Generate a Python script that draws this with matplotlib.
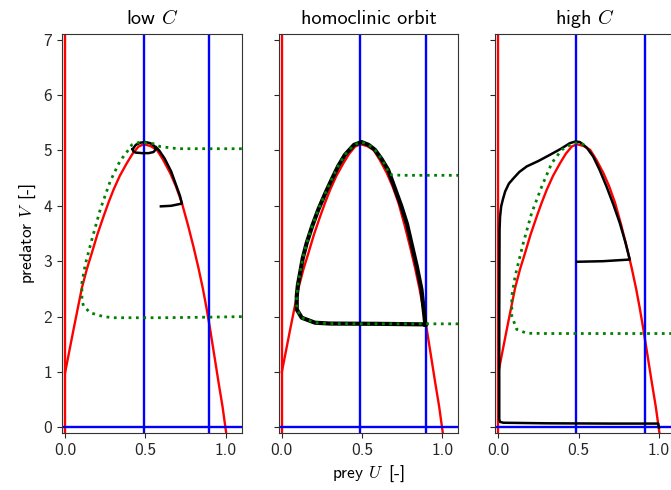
import matplotlib
matplotlib.use("Agg")
import matplotlib.pyplot as plt

plt.rcParams["font.family"] = ["cmss10", "DejaVu Sans"]
plt.rcParams["mathtext.fontset"] = "cm"
plt.rcParams["axes.unicode_minus"] = False
plt.rcParams["axes.formatter.use_mathtext"] = False

titles = ["low $C$", "homoclinic orbit", "high $C$"]

# prey nullcline (red), same in every panel
red_u = [0.0, 0.052, 0.104, 0.135, 0.166, 0.20, 0.239, 0.27, 0.301, 0.34, 0.384,
         0.42, 0.457, 0.49, 0.53, 0.571, 0.61, 0.654, 0.69, 0.727, 0.765, 0.80,
         0.83, 0.858, 0.88, 0.903, 0.93, 0.955, 0.98, 1.003]
red_v = [1.0, 1.77, 2.52, 2.86, 3.15, 3.48, 3.81, 4.06, 4.29, 4.54, 4.77,
         4.94, 5.07, 5.11, 5.08, 5.01, 4.83, 4.59, 4.35, 4.05, 3.65, 3.25,
         2.88, 2.50, 2.16, 1.77, 1.28, 0.82, 0.38, -0.1]

# predator nullclines (blue verticals) per panel
blue_u = [[0.488, 0.893], [0.486, 0.90], [0.483, 0.911]]

# low C: trajectory + small limit cycle
traj1_u = [0.596, 0.66, 0.727, 0.715, 0.69, 0.66, 0.62, 0.585, 0.565]
traj1_v = [3.99, 4.0, 4.04, 4.18, 4.38, 4.62, 4.85, 5.0, 5.06]
cyc1_u = [0.42, 0.44, 0.47, 0.50, 0.53, 0.555, 0.565, 0.55, 0.52, 0.48, 0.44, 0.425, 0.42]
cyc1_v = [5.02, 5.10, 5.14, 5.15, 5.13, 5.08, 5.02, 4.97, 4.95, 4.95, 4.96, 4.98, 5.02]

# homoclinic orbit
traj2_u = [0.894, 0.6, 0.3, 0.207, 0.124, 0.093, 0.093, 0.10, 0.114, 0.13, 0.155, 0.19,
           0.227, 0.27, 0.31, 0.35, 0.393, 0.45, 0.497, 0.54, 0.58, 0.62, 0.662, 0.70,
           0.745, 0.78, 0.807, 0.84, 0.87, 0.894]
traj2_v = [1.86, 1.87, 1.875, 1.89, 1.98, 2.13, 2.37, 2.57, 2.79, 3.05, 3.33, 3.64,
           3.93, 4.22, 4.47, 4.71, 4.92, 5.10, 5.15, 5.10, 5.01, 4.85, 4.65, 4.35,
           3.99, 3.67, 3.33, 2.92, 2.49, 1.86]

# high C: trajectory ending at (1, 0)
traj3_u = [0.491, 0.65, 0.818, 0.79, 0.756, 0.715, 0.673, 0.63, 0.59, 0.55, 0.507,
           0.48, 0.445, 0.39, 0.321, 0.25, 0.176, 0.13, 0.095, 0.065, 0.042, 0.028,
           0.017, 0.01, 0.007, 0.005, 0.005, 0.01, 0.031, 0.3, 0.7, 0.995, 1.0]
traj3_v = [2.99, 3.0, 3.03, 3.35, 3.69, 4.03, 4.35, 4.65, 4.89, 5.05, 5.15,
           5.16, 5.13, 5.03, 4.92, 4.81, 4.71, 4.61, 4.50, 4.40, 4.26, 4.12,
           3.99, 3.80, 3.57, 2.0, 0.15, 0.10, 0.085, 0.075, 0.07, 0.07, 0.0]

# saddle manifolds (green dotted)
man_u = [
    [1.1, 0.89, 0.6, 0.3, 0.239, 0.156, 0.114, 0.104, 0.104, 0.125, 0.166, 0.218,
     0.28, 0.34, 0.394, 0.415, 0.467, 0.55, 0.59, 0.70, 0.9, 1.1],
    [1.1, 0.894, 0.6, 0.3, 0.207, 0.124, 0.093, 0.093, 0.10, 0.114, 0.13, 0.155, 0.19,
     0.227, 0.27, 0.31, 0.35, 0.393, 0.45, 0.497, 0.54, 0.58, 0.62, 0.64, 0.673, 0.75, 1.1],
    [1.1, 0.911, 0.6, 0.3, 0.176, 0.114, 0.083, 0.083, 0.104, 0.155, 0.207, 0.27,
     0.332, 0.394, 0.466, 0.51, 0.549],
]
man_v = [
    [2.0, 1.99, 1.98, 1.98, 2.0, 2.07, 2.19, 2.31, 2.61, 2.94, 3.39, 3.93,
     4.44, 4.80, 5.01, 5.10, 5.15, 5.12, 5.07, 5.03, 5.03, 5.03],
    [1.87, 1.87, 1.87, 1.875, 1.89, 1.98, 2.13, 2.37, 2.57, 2.79, 3.05, 3.33, 3.64,
     3.93, 4.22, 4.47, 4.71, 4.92, 5.10, 5.15, 5.10, 5.01, 4.85, 4.75, 4.56, 4.55, 4.55],
    [1.695, 1.695, 1.695, 1.695, 1.70, 1.77, 2.01, 2.37, 2.73, 3.33, 3.87, 4.35,
     4.77, 5.01, 5.13, 5.14, 5.07],
]

fig, axes = plt.subplots(1, 3, sharey=True, figsize=(6.71, 4.90), dpi=100)
fig.subplots_adjust(left=62 / 671, right=675 / 671, bottom=1 - 433 / 490,
                    top=1 - 34 / 490, wspace=0.205)

black = [([traj1_u, cyc1_u], [traj1_v, cyc1_v], 1.8),
         ([traj2_u], [traj2_v], 3.0),
         ([traj3_u], [traj3_v], 1.8)]

for i, ax in enumerate(axes):
    ax.plot(red_u, red_v, color="red", lw=1.7)
    ax.axvline(0, color="red", lw=1.7)
    for bu in blue_u[i]:
        ax.axvline(bu, color="blue", lw=1.7)
    ax.axhline(0, color="blue", lw=1.7)
    us, vs, lw = black[i]
    for u, v in zip(us, vs):
        ax.plot(u, v, color="black", lw=lw, solid_joinstyle="round")
    ax.plot(man_u[i], man_v[i], color="green", lw=2, ls=":")

    ax.set_xlim(-0.02, 1.1)
    ax.set_ylim(-0.1, 7.1)
    ax.set_xticks([0.0, 0.5, 1.0])
    ax.set_xticklabels(["0.0", "0.5", "1.0"])
    ax.set_yticks(range(8))
    ax.set_title(titles[i], fontsize=14.5, pad=7)
    ax.tick_params(labelsize=12.5, colors="0.15")
    for spine in ax.spines.values():
        spine.set_color("0.2")

axes[0].set_ylabel("predator $V\\,$ [-]", fontsize=12.5)
axes[1].set_xlabel("prey $U\\,$ [-]", fontsize=12.5)

fig.savefig("out.png", dpi=100)
